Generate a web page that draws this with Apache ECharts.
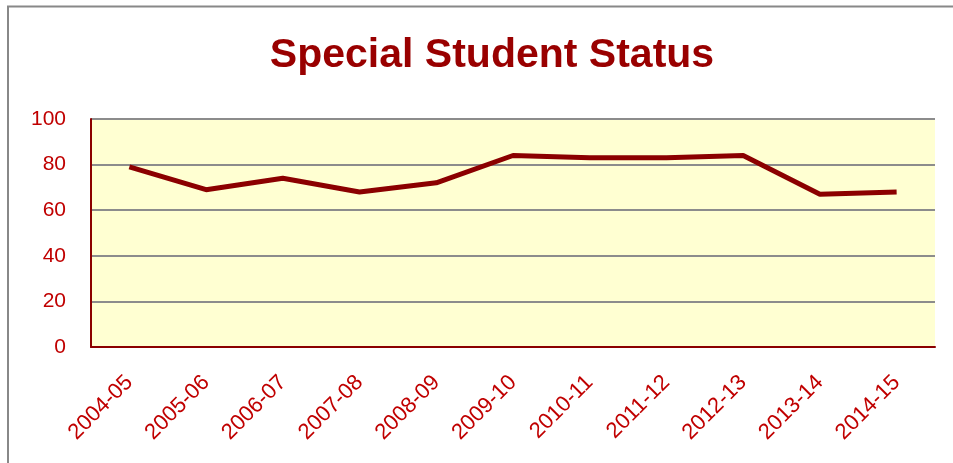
<!DOCTYPE html>
<html><head><meta charset="utf-8">
<script src="https://cdn.jsdelivr.net/npm/echarts@6/dist/echarts.min.js"></script>
<style>html,body{margin:0;padding:0;background:#fff}#c{width:953px;height:463px}</style>
</head><body><div id="c"></div>
<script>
const categories = ['2004-05','2005-06','2006-07','2007-08','2008-09','2009-10','2010-11','2011-12','2012-13','2013-14','2014-15'];
const values = [79, 69, 74, 68, 72, 84, 83, 83, 84, 67, 68];
const yTicks = [0, 20, 40, 60, 80, 100];
const titleText = 'Special Student Status';

const chart = echarts.init(document.getElementById('c'), null, {renderer: 'canvas'});
const font = "'Liberation Sans', Arial, sans-serif";
chart.setOption({
  animation: false,
  backgroundColor: '#fff',
  title: {
    text: titleText, left: 487, top: 30, textAlign: 'center',
    textStyle: {color: '#990000', fontSize: 41, fontWeight: 'bold', fontFamily: font}
  },
  graphic: [
    {type: 'polyline', shape: {points: [[8, 463], [8, 6.5], [953, 6.5]]}, style: {stroke: '#888', lineWidth: 2, fill: null}}
  ],
  grid: {left: 91, right: 18, top: 119, bottom: 116, show: true, backgroundColor: '#FFFFD2', borderWidth: 0},
  xAxis: {
    type: 'category', data: categories, boundaryGap: true,
    axisLine: {show: true, lineStyle: {color: '#8B0000', width: 2}},
    axisTick: {show: false},
    axisLabel: {rotate: 45, color: '#C00000', fontSize: 22, fontFamily: font, margin: 32, interval: 0}
  },
  yAxis: {
    type: 'value', min: yTicks[0], max: yTicks[yTicks.length - 1], interval: 20,
    axisLine: {show: true, lineStyle: {color: '#8B0000', width: 2}},
    axisTick: {show: false},
    axisLabel: {color: '#C00000', fontSize: 21, fontFamily: font, margin: 25},
    splitLine: {show: true, lineStyle: {color: '#8c8c8c', width: 2}}
  },
  series: [{
    type: 'line', data: values, symbol: 'none',
    lineStyle: {color: '#8B0000', width: 5}
  }]
});
</script></body></html>
